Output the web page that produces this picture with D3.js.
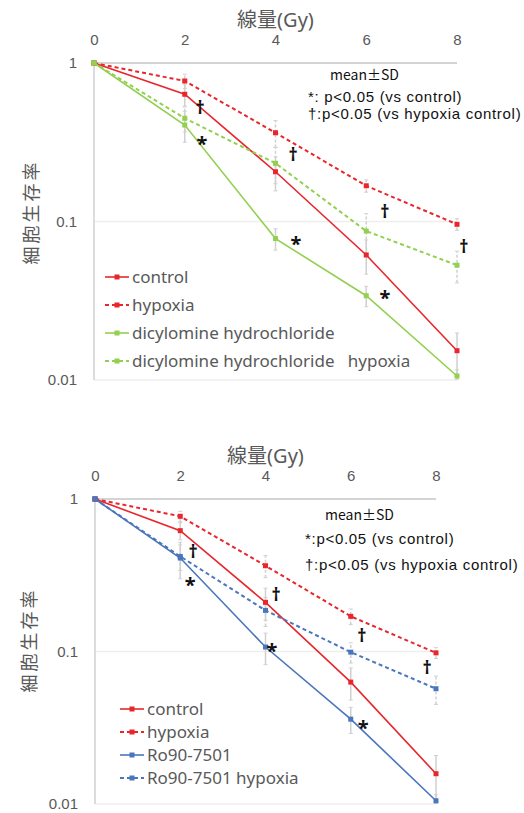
<!DOCTYPE html>
<html>
<head>
<meta charset="utf-8">
<script src="https://cdn.jsdelivr.net/npm/d3@7"></script>
<style>
  body { margin: 0; background: #fff; }
  svg { display: block; font-family: "Noto Sans", "Noto Sans CJK JP", sans-serif; }
  text { white-space: pre; }
</style>
</head>
<body>
<svg id="chart" width="524" height="813"></svg>
<script>
// doses (Gy)
var doses = [0, 2, 4, 6, 8];
var xTicks = [0, 2, 4, 6, 8];
var yTicks = [1, 0.1, 0.01];
var yTickLabels = ["1", "0.1", "0.01"];
var xTitle = "線量(Gy)";
var yTitle = "細胞生存率";
var notes = ["mean\u00b1SD", "*: p<0.05 (vs control)", "\u2020:p<0.05 (vs hypoxia control)"];
var notes2 = ["mean\u00b1SD", "*:p<0.05 (vs control)", "\u2020:p<0.05 (vs hypoxia control)"];

// top panel: surviving fraction
var ctrl1 = [1, 0.635, 0.206, 0.0615, 0.0153];
var ctrl1Sd = [0, 0.10, 0.05, 0.015, 0.0045];
var hyp1 = [1, 0.77, 0.363, 0.168, 0.096];
var hyp1Sd = [0, 0.08, 0.07, 0.015, 0.008];
var dicy = [1, 0.406, 0.078, 0.034, 0.0106];
var dicySd = [0, 0.09, 0.012, 0.005, 0.001];
var dicyHyp = [1, 0.448, 0.233, 0.087, 0.053];
var dicyHypSd = [0, 0.08, 0.06, 0.025, 0.012];
var names1 = ["control", "hypoxia", "dicylomine hydrochloride", "dicylomine hydrochloride   hypoxia"];
// significance marks [dose, value, symbol]
var marks1 = [[2.34, 0.52, "\u2020"], [2.38, 0.341, "*"], [4.39, 0.263, "\u2020"], [4.45, 0.080, "*"],
              [6.41, 0.115, "\u2020"], [6.41, 0.0364, "*"], [8.15, 0.069, "\u2020"]];

// bottom panel
var ctrl2 = [1, 0.62, 0.21, 0.063, 0.0158];
var ctrl2Sd = [0, 0.08, 0.05, 0.015, 0.005];
var hyp2 = [1, 0.77, 0.365, 0.17, 0.098];
var hyp2Sd = [0, 0.06, 0.06, 0.02, 0.008];
var ro = [1, 0.41, 0.107, 0.036, 0.0105];
var roSd = [0, 0.11, 0.025, 0.007, 0.001];
var roHyp = [1, 0.42, 0.186, 0.099, 0.057];
var roHypSd = [0, 0.08, 0.04, 0.015, 0.012];
var names2 = ["control", "hypoxia", "Ro90-7501", "Ro90-7501 hypoxia"];
var marks2 = [[2.30, 0.449, "\u2020"], [2.23, 0.303, "*"], [4.25, 0.235, "\u2020"], [4.15, 0.112, "*"],
              [6.26, 0.126, "\u2020"], [6.29, 0.035, "*"], [7.79, 0.078, "\u2020"]];

var RED = "#e8262b", GREEN = "#92d050", BLUE = "#4a76bd";
var svg = d3.select("#chart");

function drawPanel(cfg){
    var g = svg.append("g");
    var x = d3.scaleLinear().domain([0, 8]).range([cfg.left, cfg.right]);
    var y = d3.scaleLog().domain([1, 0.01]).range([cfg.top, cfg.bottom]);

    // gridlines
    g.selectAll("line.grid").data([0.1, 0.01]).enter().append("line")
        .attr("x1", x(0)).attr("x2", x(8))
        .attr("y1", function(d){ return y(d); }).attr("y2", function(d){ return y(d); })
        .attr("stroke", "#eeeeee").attr("stroke-width", 1.5);
    g.append("line").attr("x1", x(0)).attr("x2", x(8)).attr("y1", y(1)).attr("y2", y(1))
        .attr("stroke", "#d4d4d4").attr("stroke-width", 2);
    g.append("line").attr("x1", x(0)).attr("x2", x(0)).attr("y1", y(1)).attr("y2", y(0.01))
        .attr("stroke", "#dcdcdc").attr("stroke-width", 2);

    // axes
    var xa = g.append("g").attr("transform", "translate(0," + (cfg.top - 23) + ")")
        .call(d3.axisTop(x).tickValues(xTicks).tickSize(0).tickPadding(0));
    xa.select(".domain").remove();
    xa.selectAll("text").attr("fill", "#595959").style("font-size", "15px")
        .attr("dy", "0.35em").attr("y", 0);

    var ya = g.append("g").attr("transform", "translate(" + x(0) + ",0)")
        .call(d3.axisLeft(y).tickValues(yTicks).tickSize(0).tickPadding(17)
              .tickFormat(function(d, i){ return yTickLabels[i]; }));
    ya.select(".domain").remove();
    ya.selectAll("text").attr("fill", "#595959").style("font-size", "15px");

    g.append("text").attr("x", (x(0) + x(8)) / 2).attr("y", cfg.top - 43)
        .attr("text-anchor", "middle").attr("dy", "0.35em")
        .attr("fill", "#595959").style("font-size", "20px").text(xTitle);
    g.append("text").attr("transform", "translate(" + cfg.yTitleX + "," + cfg.yTitleY + ") rotate(-90)")
        .attr("text-anchor", "middle").attr("dy", "0.35em")
        .attr("fill", "#595959").style("font-size", "18px").style("letter-spacing", "3px").text(yTitle);

    // error bars
    cfg.series.forEach(function(s){
        var eg = g.append("g");
        doses.forEach(function(d, i){
            if(s.sd[i] == 0) return;
            var lo = Math.max(s.vals[i] - s.sd[i], 0.0101), hi = s.vals[i] + s.sd[i];
            eg.append("line").attr("x1", x(d)).attr("x2", x(d)).attr("y1", y(lo)).attr("y2", y(hi))
                .attr("stroke", "#d0d0d0").attr("stroke-width", 1.5)
                .attr("stroke-dasharray", s.dash ? "3,2" : null);
            [lo, hi].forEach(function(v){
                eg.append("line").attr("x1", x(d) - 2).attr("x2", x(d) + 2).attr("y1", y(v)).attr("y2", y(v))
                    .attr("stroke", "#d0d0d0").attr("stroke-width", 1);
            });
        });
    });

    // lines and markers
    var line = d3.line().x(function(d, i){ return x(doses[i]); }).y(function(d){ return y(d); });
    cfg.series.forEach(function(s){
        g.append("path").datum(s.vals).attr("d", line).attr("fill", "none")
            .attr("stroke", s.color).attr("stroke-width", s.dash ? 2 : 1.6)
            .attr("stroke-dasharray", s.dash ? "4,3" : null);
        g.selectAll(null).data(s.vals).enter().append("rect")
            .attr("x", function(d, i){ return x(doses[i]) - 2.5; })
            .attr("y", function(d){ return y(d) - 2.5; })
            .attr("width", 5).attr("height", 5).attr("fill", s.color);
    });

    // significance marks
    g.selectAll(null).data(cfg.marks).enter().append("text")
        .attr("x", function(d){ return x(d[0]); })
        .attr("y", function(d){ return y(d[1]); })
        .attr("dy", function(d){ return d[2] == "*" ? "0.72em" : "0.35em"; })
        .attr("text-anchor", "middle").attr("fill", "#111")
        .style("font-size", function(d){ return d[2] == "*" ? "20px" : "18px"; })
        .style("font-weight", "bold").text(function(d){ return d[2]; });

    // notes
    cfg.notes.forEach(function(t, i){
        g.append("text").attr("x", cfg.noteX[i]).attr("y", cfg.noteY[i]).attr("dy", "0.35em")
            .attr("fill", "#111").style("font-size", i == 0 ? "14px" : "15px")
            .style("letter-spacing", i == 0 ? null : "0.7px")
            .style("font-family", i == 0 ? "'Noto Sans CJK JP', sans-serif" : "'Liberation Sans', sans-serif")
            .text(t);
    });

    // legend
    cfg.series.forEach(function(s, i){
        var ly = cfg.legY + i * cfg.legStep;
        g.append("line").attr("x1", cfg.legX).attr("x2", cfg.legX + 24).attr("y1", ly).attr("y2", ly)
            .attr("stroke", s.color).attr("stroke-width", s.dash ? 2 : 1.6)
            .attr("stroke-dasharray", s.dash ? "4,3" : null);
        g.append("rect").attr("x", cfg.legX + 9.5).attr("y", ly - 2.5).attr("width", 5).attr("height", 5)
            .attr("fill", s.color);
        g.append("text").attr("x", cfg.legX + 27).attr("y", ly).attr("dy", "0.35em")
            .attr("fill", "#595959").style("font-size", "17px").text(s.name);
    });
}

drawPanel({
    left: 94, right: 457, top: 63, bottom: 380,
    yTitleX: 32, yTitleY: 212,
    series: [
        {name: names1[0], vals: ctrl1, sd: ctrl1Sd, color: RED, dash: false},
        {name: names1[1], vals: hyp1, sd: hyp1Sd, color: RED, dash: true},
        {name: names1[2], vals: dicy, sd: dicySd, color: GREEN, dash: false},
        {name: names1[3], vals: dicyHyp, sd: dicyHypSd, color: GREEN, dash: true}
    ],
    marks: marks1,
    notes: notes, noteX: [330, 308, 308], noteY: [75, 97, 114],
    legX: 105, legY: 277, legStep: 28
});

drawPanel({
    left: 95, right: 436, top: 499, bottom: 804,
    yTitleX: 30, yTitleY: 640,
    series: [
        {name: names2[0], vals: ctrl2, sd: ctrl2Sd, color: RED, dash: false},
        {name: names2[1], vals: hyp2, sd: hyp2Sd, color: RED, dash: true},
        {name: names2[2], vals: ro, sd: roSd, color: BLUE, dash: false},
        {name: names2[3], vals: roHyp, sd: roHypSd, color: BLUE, dash: true}
    ],
    marks: marks2,
    notes: notes2, noteX: [325, 305, 305], noteY: [515, 539, 565],
    legX: 120, legY: 709, legStep: 23
});
</script>
</body>
</html>
